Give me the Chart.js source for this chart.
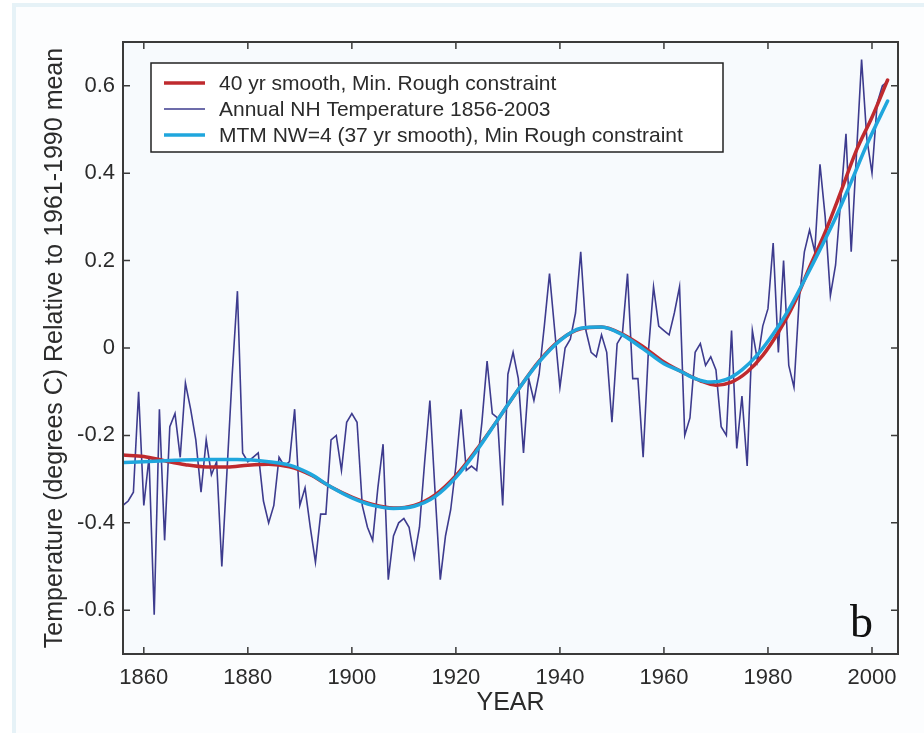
<!DOCTYPE html>
<html>
<head>
<meta charset="utf-8">
<title>Northern Hemisphere temperature, smoothed</title>
<script src="https://cdn.jsdelivr.net/npm/chart.js@4.4.1/dist/chart.umd.min.js"></script>
<style>
    html, body { margin: 0; padding: 0; background: #ffffff; overflow: hidden; }
    .frame {
        position: absolute; left: 12px; top: 3px;
        width: 1000px; height: 800px;
        border: 4px solid #e6f2f7; background: #fcfdfe;
    }
    #chart { position: absolute; left: 0; top: 0; }
</style>
</head>
<body>
<div class="frame"></div>
<canvas id="chart" width="924" height="733"></canvas>
<script>
// Annual NH temperature anomalies, one value per year starting 1856
const ANNUAL_START = 1856;
const ANNUAL_NH = [
    -0.36, -0.35, -0.33, -0.10, -0.36, -0.25, -0.61, -0.14, -0.44, -0.18,   // 1856-1865
    -0.15, -0.25, -0.08, -0.14, -0.21, -0.33, -0.21, -0.29, -0.26, -0.50,   // 1866-1875
    -0.28, -0.06,  0.13, -0.24, -0.26, -0.25, -0.24, -0.35, -0.40, -0.36,   // 1876-1885
    -0.25, -0.27, -0.26, -0.14, -0.36, -0.32, -0.41, -0.49, -0.38, -0.38,   // 1886-1895
    -0.21, -0.20, -0.28, -0.17, -0.15, -0.17, -0.36, -0.41, -0.44, -0.32,   // 1896-1905
    -0.22, -0.53, -0.43, -0.40, -0.39, -0.41, -0.48, -0.41, -0.26, -0.12,   // 1906-1915
    -0.33, -0.53, -0.43, -0.37, -0.27, -0.14, -0.28, -0.27, -0.28, -0.17,   // 1916-1925
    -0.03, -0.15, -0.16, -0.36, -0.06, -0.01, -0.07, -0.24, -0.07, -0.12,   // 1926-1935
    -0.06,  0.05,  0.17,  0.04, -0.09,  0.00,  0.02,  0.08,  0.22,  0.04,   // 1936-1945
    -0.01, -0.02,  0.03, -0.01, -0.17,  0.01,  0.03,  0.17, -0.07, -0.07,   // 1946-1955
    -0.25, -0.01,  0.14,  0.05,  0.04,  0.03,  0.08,  0.14, -0.20, -0.16,   // 1956-1965
    -0.01,  0.01, -0.04, -0.02, -0.05, -0.18, -0.20,  0.04, -0.23, -0.11,   // 1966-1975
    -0.27,  0.04, -0.03,  0.05,  0.09,  0.24, -0.01,  0.20, -0.04, -0.09,   // 1976-1985
     0.11,  0.22,  0.27,  0.22,  0.42,  0.30,  0.12,  0.19,  0.34,  0.49,   // 1986-1995
     0.22,  0.44,  0.66,  0.48,  0.40,  0.56,  0.60,  0.61                   // 1996-2003
];

// 40 yr smooth, minimum roughness constraint
const SMOOTH40_YEARS = [1856, 1860, 1864, 1868, 1872, 1876, 1880, 1884, 1888, 1892, 1896, 1900,
    1904, 1908, 1912, 1916, 1920, 1924, 1928, 1932, 1936, 1940, 1944, 1948, 1952, 1956, 1960,
    1964, 1967, 1970, 1973, 1976, 1979, 1982, 1985, 1988, 1991, 1994, 1997, 2000, 2003];
const SMOOTH40 = [-0.245, -0.248, -0.258, -0.267, -0.272, -0.272, -0.268, -0.266, -0.272, -0.290,
    -0.318, -0.341, -0.358, -0.366, -0.360, -0.336, -0.292, -0.232, -0.165, -0.095, -0.030,
    0.018, 0.044, 0.048, 0.032, 0.003, -0.032, -0.058, -0.075, -0.085, -0.078, -0.055, -0.017,
    0.036, 0.101, 0.185, 0.265, 0.357, 0.452, 0.528, 0.613];

// MTM NW=4 (37 yr smooth), minimum roughness constraint
const MTM_YEARS = [1856, 1860, 1866, 1872, 1878, 1884, 1888, 1892, 1896, 1900, 1904, 1908, 1912,
    1916, 1920, 1924, 1928, 1932, 1936, 1940, 1944, 1948, 1952, 1956, 1960, 1963, 1966, 1969,
    1972, 1975, 1978, 1981, 1984, 1987, 1990, 1993, 1996, 1999, 2003];
const MTM = [-0.262, -0.260, -0.257, -0.255, -0.255, -0.260, -0.268, -0.288, -0.318, -0.343,
    -0.360, -0.367, -0.362, -0.340, -0.296, -0.235, -0.165, -0.095, -0.032, 0.017, 0.045,
    0.048, 0.030, -0.002, -0.036, -0.052, -0.070, -0.078, -0.072, -0.050, -0.015, 0.032,
    0.088, 0.155, 0.225, 0.298, 0.380, 0.465, 0.565];

const X_TICKS = [1860, 1880, 1900, 1920, 1940, 1960, 1980, 2000];
const Y_TICKS = [-0.6, -0.4, -0.2, 0, 0.2, 0.4, 0.6];

const COLORS = {
    smooth40: '#bf2a2e',
    annual: '#3d3b8e',
    mtm: '#1fa6dd',
    axis: '#3a3a3a',
    text: '#2b2b2b',
    plotBg: '#f7fafd'
};

const FONT = "'Liberation Sans', Arial, Helvetica, sans-serif";

/**
 * Zip two arrays into {x, y} points
 */
function toPoints(xs, ys) {
    return xs.map((x, i) => ({ x: x, y: ys[i] }));
}

/**
 * Format a y tick the way the axis shows it ("0", "0.2", "-0.4")
 */
function formatTemp(value) {
    return String(Number(value.toFixed(1)));
}

// Background of the plot area, box with inward ticks, legend and panel letter
const axisBoxPlugin = {
    id: 'axisBox',
    beforeDraw(chart) {
        const { ctx, chartArea: a } = chart;
        ctx.save();
        ctx.fillStyle = COLORS.plotBg;
        ctx.fillRect(a.left, a.top, a.right - a.left, a.bottom - a.top);
        ctx.restore();
    },
    afterDatasetsDraw(chart) {
        const { ctx, chartArea: a } = chart;
        const xs = chart.scales.x;
        const ys = chart.scales.y;
        const len = 7;
        ctx.save();
        ctx.strokeStyle = COLORS.axis;
        ctx.lineWidth = 1.5;
        ctx.beginPath();
        X_TICKS.forEach(v => {
            const px = xs.getPixelForValue(v);
            ctx.moveTo(px, a.bottom); ctx.lineTo(px, a.bottom - len);
            ctx.moveTo(px, a.top); ctx.lineTo(px, a.top + len);
        });
        Y_TICKS.forEach(v => {
            const py = ys.getPixelForValue(v);
            ctx.moveTo(a.left, py); ctx.lineTo(a.left + len, py);
            ctx.moveTo(a.right, py); ctx.lineTo(a.right - len, py);
        });
        ctx.stroke();
        ctx.lineWidth = 2;
        ctx.strokeRect(a.left, a.top, a.right - a.left, a.bottom - a.top);
        ctx.restore();
    },
    afterDraw(chart) {
        const { ctx, chartArea: a } = chart;
        const box = { x: a.left + 28, y: a.top + 21, w: 572, h: 89 };
        ctx.save();
        ctx.fillStyle = '#ffffff';
        ctx.fillRect(box.x, box.y, box.w, box.h);
        ctx.strokeStyle = '#222222';
        ctx.lineWidth = 1.5;
        ctx.strokeRect(box.x, box.y, box.w, box.h);

        ctx.font = '21px ' + FONT;
        ctx.textBaseline = 'middle';
        ctx.textAlign = 'left';
        chart.data.datasets.forEach((ds, i) => {
            const cy = box.y + 20 + i * 26;
            ctx.strokeStyle = ds.borderColor;
            ctx.lineWidth = ds.borderWidth;
            ctx.beginPath();
            ctx.moveTo(box.x + 13, cy);
            ctx.lineTo(box.x + 54, cy);
            ctx.stroke();
            ctx.fillStyle = COLORS.text;
            ctx.fillText(ds.label, box.x + 68, cy + 1);
        });

        // panel letter
        ctx.font = "46px 'Liberation Serif', 'Times New Roman', serif";
        ctx.fillStyle = '#111111';
        ctx.textBaseline = 'alphabetic';
        ctx.fillText('b', a.right - 48, a.bottom - 17);
        ctx.restore();
    }
};

const annualPoints = ANNUAL_NH.map((v, i) => ({ x: ANNUAL_START + i, y: v }));

new Chart(document.getElementById('chart').getContext('2d'), {
    type: 'line',
    data: {
        datasets: [
            {
                label: '40 yr smooth, Min. Rough constraint',
                data: toPoints(SMOOTH40_YEARS, SMOOTH40),
                borderColor: COLORS.smooth40,
                borderWidth: 3.5,
                cubicInterpolationMode: 'monotone',
                order: 2
            },
            {
                label: 'Annual NH Temperature 1856-2003',
                data: annualPoints,
                borderColor: COLORS.annual,
                borderWidth: 1.6,
                tension: 0,
                order: 3
            },
            {
                label: 'MTM NW=4 (37 yr smooth), Min Rough constraint',
                data: toPoints(MTM_YEARS, MTM),
                borderColor: COLORS.mtm,
                borderWidth: 3.5,
                cubicInterpolationMode: 'monotone',
                order: 1
            }
        ]
    },
    options: {
        responsive: false,
        animation: false,
        devicePixelRatio: 1,
        layout: { padding: { left: 0, top: 42, right: 26, bottom: 0 } },
        elements: { point: { radius: 0 }, line: { fill: false, borderCapStyle: 'round' } },
        plugins: {
            legend: { display: false },
            tooltip: { enabled: false }
        },
        scales: {
            x: {
                type: 'linear',
                min: 1856,
                max: 2005,
                grid: { display: false, drawTicks: false },
                border: { display: false },
                afterBuildTicks: scale => { scale.ticks = X_TICKS.map(v => ({ value: v })); },
                afterFit: scale => { scale.height = 79; },
                ticks: {
                    color: COLORS.text,
                    font: { family: FONT, size: 22 },
                    padding: 11,
                    maxRotation: 0,
                    callback: v => String(v)
                },
                title: {
                    display: true,
                    text: 'YEAR',
                    color: COLORS.text,
                    font: { family: FONT, size: 25 },
                    padding: { top: 0, bottom: 15 }
                }
            },
            y: {
                type: 'linear',
                min: -0.7,
                max: 0.7,
                grid: { display: false, drawTicks: false },
                border: { display: false },
                afterBuildTicks: scale => { scale.ticks = Y_TICKS.map(v => ({ value: v })); },
                afterFit: scale => { scale.width = 123; },
                ticks: {
                    color: COLORS.text,
                    font: { family: FONT, size: 22 },
                    padding: 8,
                    callback: v => formatTemp(v)
                },
                title: {
                    display: true,
                    text: 'Temperature (degrees C) Relative to 1961-1990 mean',
                    color: COLORS.text,
                    font: { family: FONT, size: 25 },
                    padding: { top: 40, bottom: 0 }
                }
            }
        }
    },
    plugins: [axisBoxPlugin]
});
</script>
</body>
</html>
